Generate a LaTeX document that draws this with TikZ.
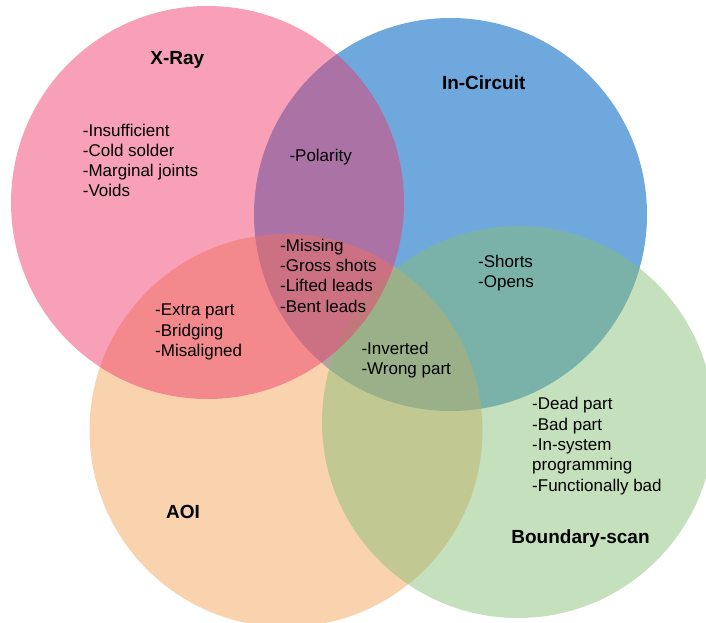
\documentclass[tikz,border=0pt]{standalone}
\usepackage{fontspec}
\setmainfont{Liberation Sans}
\definecolor{icblue}{RGB}{111,168,220}
\definecolor{aoiorange}{RGB}{242,163,86}
\definecolor{bsgreen}{RGB}{134,190,117}
\definecolor{xrpink}{RGB}{238,57,107}
\tikzset{
  setcirc/.style={fill opacity=0.48},
  ttl/.style={font=\fontsize{19bp}{22bp}\selectfont\bfseries, inner sep=0pt, anchor=base},
  lst/.style={font=\fontsize{17bp}{20.3bp}\selectfont, inner sep=0pt, anchor=base west, align=left},
}
\begin{document}
\begin{tikzpicture}[x=1bp,y=-1bp]
\useasboundingbox (0,0) rectangle (706,623);
\fill[icblue] (450.5,214.5) circle (196.5);
\fill[aoiorange,setcirc] (286,430.5) circle (196.5);
\fill[bsgreen,setcirc] (518,422) circle (196);
\fill[xrpink,setcirc] (207.5,202.5) circle (196.5);

\node[ttl] (tx) at (177.3,65) {X-Ray};
\node[ttl] (tic) at (483.7,89.5) {In-Circuit};
\node[ttl] (taoi) at (183,518) {AOI};
\node[ttl] (tbs) at (580.5,543) {Boundary-scan};

% anchors are at the baseline of each block's last line
\node[lst] (lx) at (82.7,197) {-Insufficient\\-Cold solder\\-Marginal joints\\-Voids};
\node[lst] (lpol) at (289.3,161.7) {-Polarity};
\node[lst] (lmiss) at (280,312) {-Missing\\-Gross shots\\-Lifted leads\\-Bent leads};
\node[lst] (lextra) at (155,356.3) {-Extra part\\-Bridging\\-Misaligned};
\node[lst] (lshort) at (478,287.7) {-Shorts\\-Opens};
\node[lst] (linv) at (361.3,374.3) {-Inverted\\-Wrong part};
\node[lst] (ldead) at (532,491) {-Dead part\\-Bad part\\-In-system\\programming\\-Functionally bad};
\end{tikzpicture}
\end{document}
